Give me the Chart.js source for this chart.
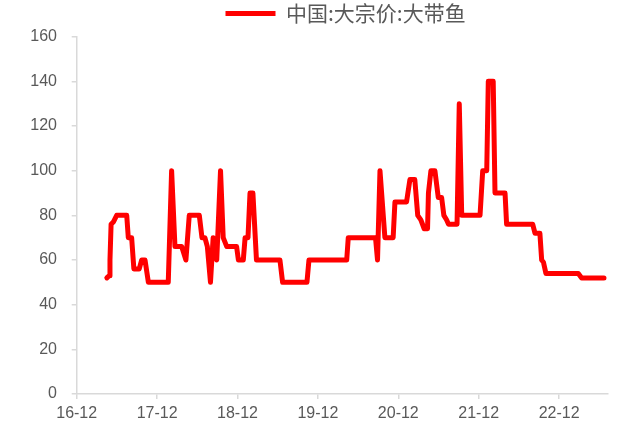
<!DOCTYPE html>
<html>
<head>
<meta charset="utf-8">
<script src="https://cdn.jsdelivr.net/npm/chart.js@4"></script>
<style>
html,body{margin:0;padding:0;background:#fff;}
#wrap{width:622px;height:438px;}
</style>
</head>
<body>
<div id="wrap"><canvas id="c" width="622" height="438"></canvas></div>
<script>
const seriesName = '中国:大宗价:大带鱼';
const dates = [
 '2017-04-16','2017-04-26','2017-04-30','2017-05-05','2017-05-15','2017-05-30','2017-07-15','2017-07-22',
 '2017-08-07','2017-08-17','2017-09-11','2017-09-22','2017-10-07','2017-10-22','2018-01-21','2018-02-06',
 '2018-02-21','2018-03-21','2018-04-10','2018-04-25','2018-06-10','2018-06-22','2018-07-05','2018-07-16',
 '2018-07-30','2018-08-12','2018-08-28','2018-09-15','2018-09-27','2018-10-13','2018-11-27','2018-12-05',
 '2018-12-27','2019-01-05','2019-01-18','2019-01-27','2019-02-10','2019-02-26','2019-06-11','2019-06-23',
 '2019-10-12','2019-10-21','2020-04-10','2020-04-17','2020-08-19','2020-08-28','2020-09-09','2020-10-01',
 '2020-11-08','2020-11-16','2021-01-08','2021-01-23','2021-02-15','2021-02-28','2021-03-12','2021-03-27',
 '2021-04-12','2021-04-16','2021-04-27','2021-05-15','2021-05-30','2021-06-15','2021-06-25','2021-07-07',
 '2021-07-16','2021-08-24','2021-09-04','2021-09-15','2021-12-07','2021-12-19','2022-01-07','2022-01-14',
 '2022-02-06','2022-02-14','2022-03-29','2022-04-06','2022-08-03','2022-08-13','2022-09-05','2022-09-13',
 '2022-09-21','2022-10-02','2023-02-27','2023-03-12','2023-06-22'
];
const prices = [
 52,53,60,76,77,80,80,70,
 70,56,56,60,60,50,50,100,
 66,66,60,80,80,70,70,66,
 50,70,60,100,70,66,66,60,
 60,70,70,90,90,60,60,50,
 50,60,60,70,70,60,100,70,
 70,86,86,96,96,80,78,74,
 74,90,100,100,88,88,80,78,
 76,76,130,80,80,100,100,140,
 140,90,90,76,76,72,72,60,
 59,54,54,52,52
];
const tickDates = ['2016-12-01','2017-12-01','2018-12-01','2019-12-01','2020-12-01','2021-12-01','2022-12-01'];
const tickLabels = ['16-12','17-12','18-12','19-12','20-12','21-12','22-12'];
const yTicks = [0,20,40,60,80,100,120,140,160];

function monthIndex(s){
  const [y,m,d] = s.split('-').map(Number);
  return (y-2016)*12 + (m-12) + (d-1)/30;
}
const points = dates.map((d,i)=>({x: monthIndex(d), y: prices[i]}));
const tickVals = tickDates.map(monthIndex);

const legendShift = {
  id:'legendShift',
  afterLayout(chart){
    const lg = chart.legend;
    if(!lg || !lg.lineWidths) return;
    const pad = lg.options.labels.padding;
    const cx = (lg.left + pad + lg.right - lg.lineWidths[0]) / 2;
    const dx = 225.5 - cx;
    lg.left += dx; lg.right += dx;
    const fs = lg.options.labels.font.size;
    const dy = (13.5 - fs/2 - pad) - lg.top;
    lg.top += dy; lg.bottom += dy;
  }
};

const textColor = '#595959';
const axisColor = '#D9D9D9';

new Chart(document.getElementById('c'), {
  type:'line',
  data:{
    datasets:[{
      label: seriesName,
      data: points,
      borderColor:'#FF0000',
      backgroundColor:'#FF0000',
      borderWidth:5,
      pointRadius:0,
      tension:0,
      fill:false,
      borderCapStyle:'round',
      borderJoinStyle:'round'
    }]
  },
  options:{
    responsive:false,
    animation:false,
    devicePixelRatio:1,
    layout:{padding:{top:1.7,right:14,left:0,bottom:0}},
    plugins:{
      tooltip:{enabled:false},
      legend:{
        display:true,
        position:'top',
        labels:{
          usePointStyle:true,
          pointStyle:'line',
          pointStyleWidth:50,
          padding:4,
          color:textColor,
          font:{family:'"Noto Sans CJK SC", sans-serif', size:21}
        }
      }
    },
    scales:{
      x:{
        type:'linear',
        min:0,
        max:79.3,
        afterBuildTicks(scale){ scale.ticks = tickVals.map(v=>({value:v})); },
        afterFit(scale){ scale.height = 44; },
        ticks:{
          autoSkip:false,
          maxRotation:0,
          padding:4.7,
          color:textColor,
          font:{family:'"Liberation Sans", sans-serif', size:16},
          callback:(v,i)=>tickLabels[i]
        },
        grid:{display:true, drawOnChartArea:false, drawTicks:true, tickLength:5, color:axisColor, lineWidth:1.5},
        border:{display:true, color:axisColor, width:1.5}
      },
      y:{
        type:'linear',
        min:0,
        max:160,
        afterBuildTicks(scale){ scale.ticks = yTicks.map(v=>({value:v})); },
        afterFit(scale){ scale.width = 76.7; },
        ticks:{
          padding:14.7,
          color:textColor,
          font:{family:'"Liberation Sans", sans-serif', size:16}
        },
        grid:{display:true, drawOnChartArea:false, drawTicks:true, tickLength:5, color:axisColor, lineWidth:1.5},
        border:{display:true, color:axisColor, width:1.5}
      }
    }
  },
  plugins:[legendShift]
});
</script>
</body>
</html>
